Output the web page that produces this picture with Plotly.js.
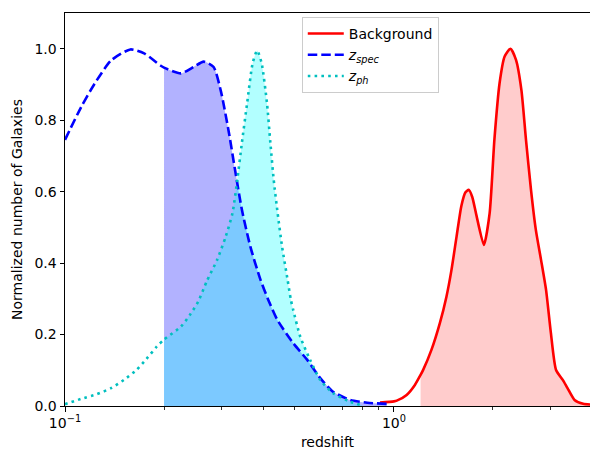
<!DOCTYPE html>
<html>
<head>
<meta charset="utf-8">
<script src="https://cdn.plot.ly/plotly-3.0.1.min.js"></script>
<style>
  html, body { margin: 0; padding: 0; background: #ffffff; }
  #chart { width: 590px; height: 450px; }
</style>
</head>
<body>
<div id="chart"></div>
<script>
// ---- data ----
const bgX   = [0.907, 1.0, 1.02, 1.093, 1.158, 1.205, 1.227, 1.30, 1.379, 1.444, 1.496, 1.55, 1.603, 1.65, 1.688, 1.73, 1.78, 1.877, 1.954, 2.02, 2.095, 2.17, 2.26, 2.35, 2.44, 2.52, 2.61, 2.70, 2.80, 2.90, 3.0, 3.11, 3.26, 3.37, 3.54, 3.76, 3.95];
const bgY   = [0.010, 0.013, 0.015, 0.031, 0.059, 0.087, 0.101, 0.157, 0.232, 0.306, 0.381, 0.474, 0.560, 0.598, 0.605, 0.585, 0.535, 0.451, 0.540, 0.745, 0.904, 0.978, 1.000, 0.969, 0.885, 0.745, 0.605, 0.493, 0.409, 0.325, 0.204, 0.101, 0.073, 0.050, 0.017, 0.006, 0.004];

const specX = [0.100, 0.112, 0.123, 0.138, 0.158, 0.174, 0.195, 0.200, 0.225, 0.246, 0.264, 0.283, 0.298, 0.315, 0.330, 0.345, 0.366, 0.393, 0.415, 0.442, 0.494, 0.545, 0.597, 0.653, 0.736, 0.830, 0.950];
const specY = [0.745, 0.837, 0.902, 0.967, 0.998, 0.987, 0.953, 0.947, 0.931, 0.949, 0.964, 0.949, 0.880, 0.765, 0.652, 0.549, 0.446, 0.353, 0.297, 0.241, 0.176, 0.129, 0.078, 0.040, 0.017, 0.009, 0.006];

const phX   = [0.100, 0.112, 0.125, 0.138, 0.151, 0.165, 0.177, 0.190, 0.200, 0.225, 0.241, 0.254, 0.270, 0.290, 0.308, 0.323, 0.334, 0.345, 0.358, 0.372, 0.384, 0.396, 0.411, 0.421, 0.431, 0.443, 0.457, 0.475, 0.486, 0.494, 0.519, 0.556, 0.597, 0.653, 0.736, 0.800];
const phY   = [0.005, 0.020, 0.033, 0.050, 0.073, 0.101, 0.132, 0.166, 0.186, 0.222, 0.258, 0.292, 0.350, 0.409, 0.474, 0.540, 0.633, 0.737, 0.849, 0.960, 0.995, 0.960, 0.849, 0.737, 0.633, 0.540, 0.446, 0.353, 0.297, 0.269, 0.194, 0.129, 0.073, 0.036, 0.012, 0.002];

const specFillFrom = 0.2;
const phFillFrom   = 0.2;
const bgFillFrom   = 1.205;

const majorTicks     = [0.1, 1];
const majorTickText  = ['10<sup>\u22121</sup>', '10<sup>0</sup>'];
const minorTicks     = [0.2, 0.3, 0.4, 0.5, 0.6, 0.7, 0.8, 0.9, 2, 3];

const seriesNames = ['Background', '<i>z</i><sub><i>spec</i></sub>', '<i>z</i><sub><i>ph</i></sub>'];

// ---- helpers ----
function cut(xs, ys, from) {
  const ox = [], oy = [];
  for (let i = 0; i < xs.length; i++) {
    if (xs[i] >= from - 1e-9) { ox.push(xs[i]); oy.push(ys[i]); }
  }
  return {x: ox, y: oy};
}

const fs = cut(specX, specY, specFillFrom);
const fp = cut(phX, phY, phFillFrom);
const fb = cut(bgX, bgY, bgFillFrom);

const traces = [
  {x: fb.x, y: fb.y, type: 'scatter', mode: 'lines', fill: 'tozeroy',
   fillcolor: 'rgba(255,0,0,0.2)', line: {width: 0, shape: 'spline', smoothing: 0.6}, showlegend: false, hoverinfo: 'skip'},
  {x: fs.x, y: fs.y, type: 'scatter', mode: 'lines', fill: 'tozeroy',
   fillcolor: 'rgba(0,0,255,0.3)', line: {width: 0, shape: 'spline', smoothing: 0.6}, showlegend: false, hoverinfo: 'skip'},
  {x: fp.x, y: fp.y, type: 'scatter', mode: 'lines', fill: 'tozeroy',
   fillcolor: 'rgba(0,255,255,0.3)', line: {width: 0, shape: 'spline', smoothing: 0.6}, showlegend: false, hoverinfo: 'skip'},
  {x: bgX, y: bgY, type: 'scatter', mode: 'lines', name: seriesNames[0],
   line: {color: '#ff0000', width: 2.6, shape: 'spline', smoothing: 0.6}},
  {x: specX, y: specY, type: 'scatter', mode: 'lines', name: seriesNames[1],
   line: {color: '#0000ff', width: 2.6, dash: '9.5px,4px', shape: 'spline', smoothing: 0.6}},
  {x: phX, y: phY, type: 'scatter', mode: 'lines', name: seriesNames[2],
   line: {color: '#00bfbf', width: 2.6, dash: '2.6px,4.2px', shape: 'spline', smoothing: 0.6}}
];

const font = {family: 'DejaVu Sans, sans-serif', size: 14, color: '#000000'};

const layout = {
  width: 590, height: 450,
  margin: {l: 65, r: 0, t: 13, b: 44, pad: 0},
  paper_bgcolor: '#ffffff', plot_bgcolor: '#ffffff',
  font: font,
  showlegend: true,
  legend: {
    x: 0.451, y: 0.99, xanchor: 'left', yanchor: 'top',
    bgcolor: 'rgba(255,255,255,0.8)', bordercolor: '#cccccc', borderwidth: 1,
    font: {family: 'DejaVu Sans, sans-serif', size: 14, color: '#000000'},
    itemwidth: 36, tracegroupgap: 0
  },
  xaxis: {
    type: 'log', range: [-1, 0.596],
    tickmode: 'array', tickvals: majorTicks, ticktext: majorTickText,
    ticks: 'outside', ticklen: 4.5, tickwidth: 1, tickcolor: '#000000',
    minor: {tickmode: 'array', tickvals: minorTicks, ticks: 'outside', ticklen: 2.6, tickwidth: 0.8, tickcolor: '#000000', showgrid: false},
    showline: true, linecolor: '#000000', linewidth: 1, mirror: true,
    showgrid: false, zeroline: false,
    tickfont: font,
    title: {text: 'redshift', font: font, standoff: 9}
  },
  yaxis: {
    range: [0, 1.1], tickmode: 'linear', tick0: 0, dtick: 0.2, tickformat: '.1f',
    ticks: 'outside', ticklen: 4.5, tickwidth: 1, tickcolor: '#000000',
    showline: true, linecolor: '#000000', linewidth: 1, mirror: false,
    showgrid: false, zeroline: false,
    tickfont: font,
    title: {text: 'Normalized number of Galaxies', font: font, standoff: 8}
  }
};

Plotly.newPlot('chart', traces, layout, {staticPlot: true, displayModeBar: false});
</script>
</body>
</html>
